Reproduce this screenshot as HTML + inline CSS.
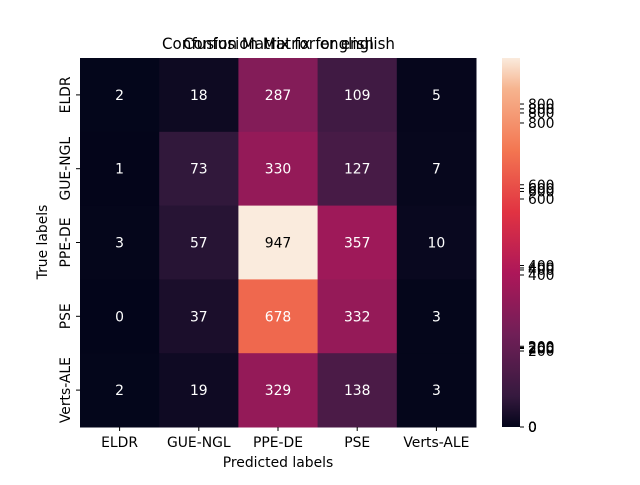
<!DOCTYPE html>
<html><head><meta charset="utf-8"><style>
body{margin:0;background:#fff}
svg text{font-family:"DejaVu Sans","Liberation Sans",sans-serif}
</style></head><body>
<svg id="c" width="640" height="480" xmlns="http://www.w3.org/2000/svg">
<defs><linearGradient id="g" x1="0" y1="1" x2="0" y2="0">
<stop offset="0" stop-color="#03051a"/><stop offset="0.083" stop-color="#35193e"/><stop offset="0.25" stop-color="#701f57"/><stop offset="0.417" stop-color="#ad1759"/><stop offset="0.583" stop-color="#e13342"/><stop offset="0.75" stop-color="#f37651"/><stop offset="0.917" stop-color="#f6b48f"/><stop offset="1" stop-color="#faebdd"/></linearGradient></defs>
<text x="162" y="49" font-size="16" textLength="212" lengthAdjust="spacingAndGlyphs">Confusion Matrix for english</text>
<text x="183" y="49" font-size="16" textLength="212" lengthAdjust="spacingAndGlyphs">Confusion Matrix for english</text>
<g id="cells"></g>
<rect x="502" y="58" width="18" height="369" fill="url(#g)"/>
<g id="cb"></g>
<text x="278" y="467" font-size="13.9" text-anchor="middle">Predicted labels</text>
<text transform="translate(47,242) rotate(-90)" font-size="13.9" text-anchor="middle">True labels</text>
</svg>
<script>
const labels=["ELDR","GUE-NGL","PPE-DE","PSE","Verts-ALE"];
const values=[[2,18,287,109,5],[1,73,330,127,7],[3,57,947,357,10],[0,37,678,332,3],[2,19,329,138,3]];
const cbTicks=[0,200,400,600,800];
const cbMaxes=[914,928,940,971];
const NS="http://www.w3.org/2000/svg";
const X0=80,Y0=58,W=396,H=369;
const stops=[[0,[3,5,26]],[0.083,[53,25,62]],[0.25,[112,31,87]],[0.417,[173,23,89]],[0.583,[225,51,66]],[0.75,[243,118,81]],[0.917,[246,180,143]],[1,[250,235,221]]];
function cmap(t){for(let i=1;i<stops.length;i++){if(t<=stops[i][0]){const a=stops[i-1],b=stops[i],f=(t-a[0])/(b[0]-a[0]);return a[1].map((v,k)=>Math.round(v+(b[1][k]-v)*f));}}return stops[stops.length-1][1];}
const vmax=Math.max(...values.flat());
const cw=W/labels.length,ch=H/labels.length;
const xs=i=>X0+i*cw, ys=j=>Y0+j*ch;
const svg=document.getElementById('c'),cells=document.getElementById('cells'),cb=document.getElementById('cb');
function el(t,a,p){const e=document.createElementNS(NS,t);for(const k in a)e.setAttribute(k,a[k]);p.appendChild(e);return e;}
values.forEach((row,j)=>row.forEach((v,i)=>{
 const c=cmap(v/vmax);
 const r=el('rect',{x:xs(i),y:ys(j),width:cw+0.5,height:ch+0.5,fill:`rgb(${c})`},cells);
 
 
 const lum=(0.299*c[0]+0.587*c[1]+0.114*c[2])/255;
 const t=el('text',{x:xs(i)+cw/2,y:ys(j)+ch/2+5,'font-size':13.9,'text-anchor':'middle',fill:lum>0.6?'#000':'#fff'},cells);
 t.textContent=v;
 
 
}));
labels.forEach((l,i)=>{
 el('line',{x1:xs(i)+cw/2,x2:xs(i)+cw/2,y1:427,y2:431,stroke:'#000'},svg);
 const t=el('text',{x:xs(i)+cw/2,y:447,'font-size':13.9,'text-anchor':'middle'},svg);t.textContent=l;
 
 
 el('line',{x1:76,x2:80,y1:ys(i)+ch/2,y2:ys(i)+ch/2,stroke:'#000'},svg);
 const u=el('text',{transform:`translate(70,${ys(i)+ch/2}) rotate(-90)`,'font-size':13.9,'text-anchor':'middle'},svg);u.textContent=l;
 
 
});
cbMaxes.forEach(m=>{cbTicks.forEach(v=>{
 const y=427-v/m*H;
 el('line',{x1:520,x2:524,y1:y,y2:y,stroke:'#000'},cb);
 const t=el('text',{x:528,y:y+5,'font-size':13.9},cb);t.textContent=v;
 
 
});});
</script>
</body></html>
